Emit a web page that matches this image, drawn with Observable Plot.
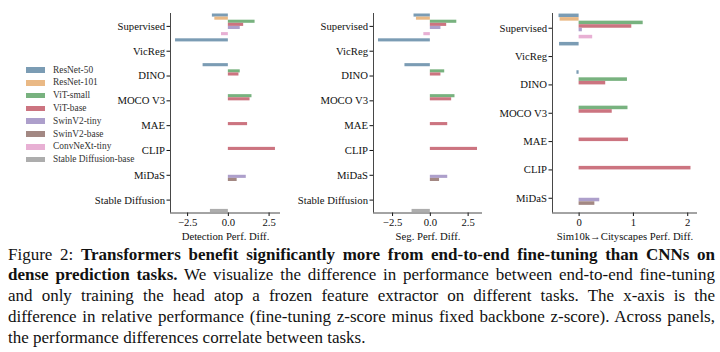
<!DOCTYPE html>
<html>
<head>
<meta charset="utf-8">
<script src="https://cdn.jsdelivr.net/npm/d3@7"></script>
<script src="https://cdn.jsdelivr.net/npm/@observablehq/plot@0.6"></script>
<style>
  html, body { margin: 0; padding: 0; background: #fff; }
  #root { position: relative; width: 720px; height: 352px; overflow: hidden; font-family: "Liberation Serif", "DejaVu Serif", serif; color: #111; }
  .panel { position: absolute; top: 0; }
  .panel svg, .panel svg text { font-family: "Liberation Serif", "DejaVu Serif", serif !important; }
  #legend { position: absolute; left: 26px; top: 63.6px; font-size: 9.4px; font-family: "Liberation Serif", "DejaVu Serif", serif; }
  .lrow { position: relative; height: 12.8px; line-height: 12.8px; white-space: nowrap; }
  .lsw { position: absolute; left: 0; top: 3.6px; width: 19px; height: 5.6px; }
  .ltx { position: absolute; left: 27px; top: 0; color: #333; font-family: "Liberation Serif", serif; }
  #caption { position: absolute; left: 8px; top: 244.6px; width: 707px; font-size: 17px; line-height: 20.8px; color: #111; }
  .cl { white-space: nowrap; text-align: justify; text-align-last: justify; }
  .cl.last { text-align: left; text-align-last: left; }
</style>
</head>
<body>
<div id="root">
  <div id="legend"></div>
  <div id="p1" class="panel" style="left:60px"></div>
  <div id="p2" class="panel" style="left:290px"></div>
  <div id="p3" class="panel" style="left:490px"></div>
  <div id="caption">
    <div class="cl">Figure 2: <b>Transformers benefit significantly more from end-to-end fine-tuning than CNNs on</b></div>
    <div class="cl"><b>dense prediction tasks.</b> We visualize the difference in performance between end-to-end fine-tuning</div>
    <div class="cl">and only training the head atop a frozen feature extractor on different tasks. The x-axis is the</div>
    <div class="cl">difference in relative performance (fine-tuning z-score minus fixed backbone z-score). Across panels,</div>
    <div class="cl last">the performance differences correlate between tasks.</div>
  </div>
</div>
<script>
// ---- data ----
const methods = ["Supervised", "VicReg", "DINO", "MOCO V3", "MAE", "CLIP", "MiDaS", "Stable Diffusion"];
const backbones = ["ResNet-50", "ResNet-101", "ViT-small", "ViT-base", "SwinV2-tiny", "SwinV2-base", "ConvNeXt-tiny", "Stable Diffusion-base"];
const colors = ["#7b9cb4", "#eab985", "#78b27f", "#cc7480", "#ad9fcb", "#a38883", "#e8b0d4", "#adadad"];

// rows: method, columns: backbone (null = not evaluated)
const detection = [
  [-0.98, -0.83, 1.64, 0.94, 0.73, null, -0.42, null],
  [-3.24, null, null, null, null, null, null, null],
  [-1.55, null, 0.73, 0.65, null, null, null, null],
  [null, null, 1.45, 1.33, null, null, null, null],
  [null, null, null, 1.18, null, null, null, null],
  [null, null, null, 2.89, null, null, null, null],
  [null, null, null, null, 1.10, 0.54, null, null],
  [null, null, null, null, null, null, null, -1.10]
];
const segmentation = [
  [-1.08, -0.92, 1.75, 1.08, 0.70, null, -0.43, null],
  [-3.43, null, null, null, null, null, null, null],
  [-1.68, null, 0.95, 0.70, null, null, null, null],
  [null, null, 1.63, 1.41, null, null, null, null],
  [null, null, null, 1.15, null, null, null, null],
  [null, null, null, 3.12, null, null, null, null],
  [null, null, null, null, 1.15, 0.61, null, null],
  [null, null, null, null, null, null, null, -1.21]
];
const sim2city = [
  [-0.37, -0.35, 1.18, 0.97, 0.06, null, 0.25, null],
  [-0.36, null, null, null, null, null, null, null],
  [-0.04, null, 0.89, 0.49, null, null, null, null],
  [null, null, 0.90, 0.61, null, null, null, null],
  [null, null, null, 0.91, null, null, null, null],
  [null, null, null, 2.06, null, null, null, null],
  [null, null, null, null, 0.38, 0.29, null, null]
];
const xTicks12 = [-2.5, 0, 2.5];
const xTicks3 = [0, 1, 2];

const SERIF = "'Liberation Serif', 'DejaVu Serif', serif";

// ---- legend ----
const legend = document.getElementById("legend");
backbones.forEach((b, i) => {
  const row = document.createElement("div");
  row.className = "lrow";
  row.innerHTML = `<span class="lsw" style="background:${colors[i]}"></span><span class="ltx">${b}</span>`;
  legend.appendChild(row);
});

// ---- panels ----
function toRows(table) {
  const out = [];
  table.forEach((vals, mi) => vals.forEach((v, bi) => {
    if (v != null) out.push({mi, bi, method: methods[mi], backbone: backbones[bi], value: v});
  }));
  return out;
}

function panel(el, table, opts) {
  const n = table.length;
  const rows = toRows(table);
  const slot = 1 / 8;
  const yDom = [-0.52, n - 0.48];
  const chart = Plot.plot({
    width: opts.width,
    height: 245,
    marginLeft: opts.ml,
    marginRight: opts.mr,
    marginTop: 13,
    marginBottom: 32.5,
    style: {fontFamily: SERIF, fontSize: "10.7px", color: "#111", background: "transparent", overflow: "visible"},
    x: {domain: opts.xDomain, ticks: opts.ticks, tickFormat: opts.fmt, label: opts.label, labelAnchor: "center", labelArrow: "none", labelOffset: 27, tickSize: 3.5, tickPadding: 2},
    y: {domain: yDom, reverse: true, ticks: d3.range(n), tickFormat: i => methods[i], label: null, tickSize: 3.5, tickPadding: 2},
    color: {domain: backbones, range: colors},
    marks: [
      Plot.rect(rows, {
        x1: 0,
        x2: "value",
        y1: d => d.mi + (d.bi - 3.5) * slot - slot / 2,
        y2: d => d.mi + (d.bi - 3.5) * slot + slot / 2,
        fill: "backbone"
      }),
      Plot.ruleX([opts.xDomain[0]], {stroke: "#333", strokeWidth: 0.9}),
      Plot.ruleY([yDom[1]], {stroke: "#333", strokeWidth: 0.9})
    ]
  });
  chart.setAttribute("font-family", SERIF);
  chart.querySelectorAll("text").forEach(t => t.style.fontFamily = SERIF);
  el.appendChild(chart);
}

panel(document.getElementById("p1"), detection, {
  width: 225, ml: 110, mr: 5, xDomain: [-3.55, 3.2], ticks: xTicks12, fmt: d3.format(".1f"), label: "Detection Perf. Diff."
});
panel(document.getElementById("p2"), segmentation, {
  width: 200, ml: 83, mr: 8, xDomain: [-3.76, 3.45], ticks: xTicks12, fmt: d3.format(".1f"), label: "Seg. Perf. Diff."
});
panel(document.getElementById("p3"), sim2city, {
  width: 225, ml: 62, mr: 18, xDomain: [-0.49, 2.18], ticks: xTicks3, fmt: d3.format("d"), label: "Sim10k→Cityscapes Perf. Diff."
});
</script>
</body>
</html>
